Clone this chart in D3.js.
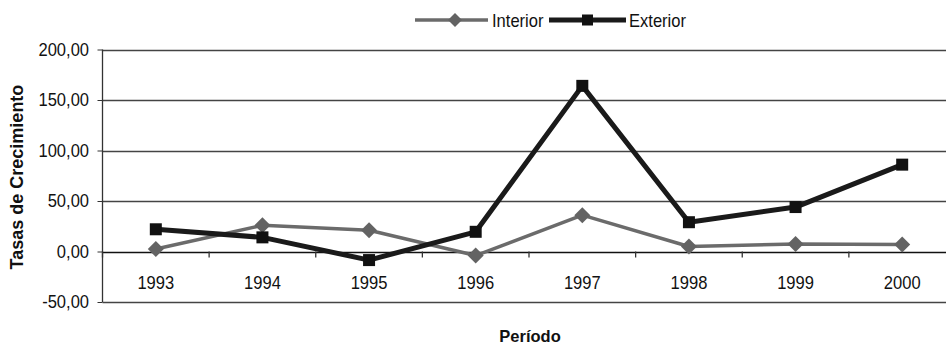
<!DOCTYPE html>
<html><head><meta charset="utf-8">
<script src="https://cdn.jsdelivr.net/npm/d3@7"></script>
<style>body{margin:0;background:#fff}svg{display:block}text{font-family:"Liberation Sans",Arial,sans-serif}</style>
</head><body>
<svg id="c" width="946" height="346"></svg>
<script>
const years = ["1993","1994","1995","1996","1997","1998","1999","2000"];
const interior = [2.5, 26, 21, -4, 36, 5, 7.5, 7];
const exterior = [22, 14, -8.5, 19.5, 164, 29, 44, 86];
const yTicks = [-50, 0, 50, 100, 150, 200];
const seriesNames = ["Interior", "Exterior"];

(function () {
const svg = d3.select("#c");
const W = 946, SX = 0.92;
const mLeft = 102.5, mRight = 955.5, mTop = 49.5, mBottom = 302;
const x = d3.scalePoint().domain(years).range([mLeft, mRight]).padding(0.5);
const xb = d3.scaleBand().domain(years).range([mLeft, mRight]);
const y = d3.scaleLinear().domain([-50, 200]).range([mBottom, mTop]);
const fmt = d3.formatLocale({decimal: ",", thousands: ".", grouping: [3], currency: ["", ""], minus: "-"}).format(".2f");

// gridlines
svg.append("g").selectAll("line").data(yTicks).join("line")
  .attr("x1", mLeft).attr("x2", W).attr("y1", d => Math.round(y(d)) + 0.5).attr("y2", d => Math.round(y(d)) + 0.5)
  .attr("stroke", d => d === 0 ? "#111" : "#444").attr("stroke-width", 1.3);

// y axis
const ya = svg.append("g").attr("transform", `translate(${mLeft},0)`)
  .call(d3.axisLeft(y).tickValues(yTicks).tickFormat(fmt).tickSize(5).tickPadding(9.6));
ya.select(".domain").remove();
ya.append("line").attr("x1", 0).attr("x2", 0).attr("y1", y(200)).attr("y2", y(-50)).attr("stroke", "#333").attr("stroke-width", 1.3);
ya.selectAll(".tick line").attr("stroke", "#333");
ya.selectAll("text").attr("font-size", 18).attr("fill", "#111")
  .attr("font-family", "Liberation Sans, Arial, sans-serif").attr("transform", `scale(${SX},1)`);

// x ticks at band boundaries
const bounds = years.map(d => xb(d)).concat([xb(years[years.length-1]) + xb.bandwidth()]);
svg.append("g").selectAll("line").data(bounds.filter(b => b < W)).join("line")
  .attr("x1", d => d).attr("x2", d => d).attr("y1", y(0)).attr("y2", y(0) + 6)
  .attr("stroke", "#333").attr("stroke-width", 1.3);
svg.append("g").selectAll("text").data(years).join("text")
  .attr("transform", d => `translate(${x(d)},289) scale(${SX},1)`).attr("text-anchor", "middle")
  .attr("font-size", 18).attr("fill", "#111").text(d => d);

// lines
const line = d3.line().x((d, i) => x(years[i])).y(d => y(d));
svg.append("path").datum(interior).attr("d", line).attr("fill", "none")
  .attr("stroke", "#6b6b6b").attr("stroke-width", 3.5).attr("stroke-linejoin", "round");
svg.append("path").datum(exterior).attr("d", line).attr("fill", "none")
  .attr("stroke", "#1a1a1a").attr("stroke-width", 5).attr("stroke-linejoin", "round");

// markers
const diamond = (cx, cy, r) => `M${cx},${cy - r}L${cx + r},${cy}L${cx},${cy + r}L${cx - r},${cy}Z`;
svg.append("g").selectAll("path").data(interior).join("path")
  .attr("d", (d, i) => diamond(x(years[i]), y(d), 8)).attr("fill", "#636363");
svg.append("g").selectAll("rect").data(exterior).join("rect")
  .attr("x", (d, i) => x(years[i]) - 6).attr("y", d => y(d) - 6)
  .attr("width", 12).attr("height", 12).attr("fill", "#111");

// legend
const lg = svg.append("g");
lg.append("line").attr("x1", 415).attr("x2", 488).attr("y1", 20).attr("y2", 20).attr("stroke", "#6b6b6b").attr("stroke-width", 3.5);
lg.append("path").attr("d", diamond(455, 20, 7)).attr("fill", "#636363");
lg.append("text").attr("transform", `translate(492,26.5) scale(${SX},1)`).attr("font-size", 18).attr("fill", "#111").text(seriesNames[0]);
lg.append("line").attr("x1", 549).attr("x2", 626).attr("y1", 20).attr("y2", 20).attr("stroke", "#1a1a1a").attr("stroke-width", 5);
lg.append("rect").attr("x", 582).attr("y", 14.5).attr("width", 11).attr("height", 11).attr("fill", "#111");
lg.append("text").attr("transform", `translate(629,26.5) scale(${SX},1)`).attr("font-size", 18).attr("fill", "#111").text(seriesNames[1]);

// axis titles
svg.append("text").attr("x", 530).attr("y", 342).attr("text-anchor", "middle")
  .attr("font-size", 16.5).attr("font-weight", "bold").attr("fill", "#111").text("Período");
svg.append("text").attr("transform", "translate(22.5,177) rotate(-90)").attr("text-anchor", "middle")
  .attr("font-size", 18).attr("font-weight", "bold").attr("fill", "#111").text("Tasas de Crecimiento");
})();
</script>
</body></html>
